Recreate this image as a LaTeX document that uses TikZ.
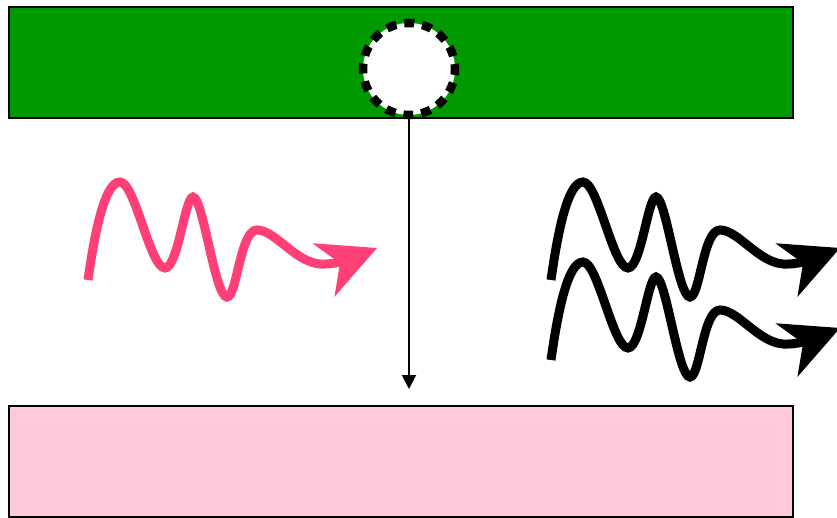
\documentclass[tikz,border=0pt]{standalone}
\usetikzlibrary{positioning,arrows.meta}
\definecolor{bandgreen}{HTML}{009900}
\definecolor{bandpink}{HTML}{FFCADA}
\definecolor{wavepink}{HTML}{FF4077}
\tikzset{
  fig/.style={x=1pt,y=-1pt},
  band/.style={draw,line width=1.3pt,minimum width=784pt,minimum height=111pt,
               inner sep=0pt},
  hole/.style={circle,draw,fill=white,line width=8.5pt,minimum size=92pt,inner sep=0pt,
               dash pattern=on 10pt off 8pt,dash phase=5pt},
  ln/.style={-{Triangle[length=14pt,width=14pt]},line width=2pt},
  wavy/.style={line width=9pt,
               -{Stealth[length=58pt,width=58pt,inset=18pt,line width=0pt]}},
  wave/.pic={
    \draw[wavy] (0,0) .. controls (7,-50) and (17,-98) .. (32,-98)
      .. controls (47,-98) and (62,-12) .. (77,-12)
      .. controls (90,-12) and (97,-83) .. (105,-83)
      .. controls (115,-83) and (127,17) .. (139,17)
      .. controls (149,17) and (152,-50) .. (169,-50)
      .. controls (187,-50) and (207,-18) .. (232,-16)
      .. controls (252,-15) and (272,-25) .. (289,-32);
  },
}

\begin{document}
\begin{tikzpicture}[fig]
\useasboundingbox (0,0) rectangle (837,518);

% --- the two bands and the hole in the upper one
\node[band,fill=bandgreen] (topband) at (401,62.5) {};
\node[band,fill=bandpink]  (bottomband) at (401,461.5) {};
\node[hole] (hole) at (409,69) {};

\coordinate (drop) at (409,389);
\draw[ln] (hole.south) -- (drop);

% --- waves
\pic[color=wavepink] at (88,280) {wave};
\pic[color=black]    at (551,280) {wave};
\pic[color=black]    at (551,360) {wave};

\end{tikzpicture}
\end{document}
